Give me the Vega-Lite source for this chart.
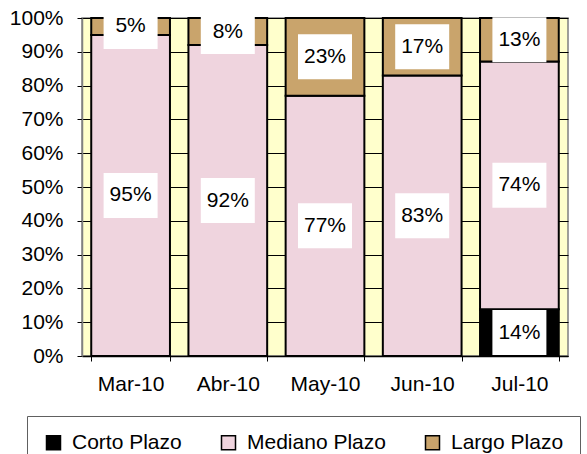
{
  "$schema": "https://vega.github.io/schema/vega-lite/v6.json",
  "autosize": {"type": "none"},
  "width": 486,
  "height": 338,
  "padding": {"left": 82, "top": 18, "right": 19, "bottom": 98},
  "background": "white",
  "title": {
    "text": "competitivo",
    "fontSize": 22,
    "fontWeight": "bold",
    "font": "Liberation Sans",
    "color": "black",
    "anchor": "middle",
    "dx": -33,
    "offset": 4
  },
  "config": {
    "font": "Liberation Sans",
    "view": {"fill": "#FFFFCC", "stroke": "#808080", "strokeWidth": 1.5},
    "axis": {
      "labelFont": "Liberation Sans",
      "labelFontSize": 21,
      "labelColor": "black",
      "tickColor": "black",
      "tickSize": 5,
      "title": null
    },
    "axisY": {
      "values": [0, 0.1, 0.2, 0.3, 0.4, 0.5, 0.6, 0.7, 0.8, 0.9, 1],
      "format": ".0%",
      "labelOverlap": false,
      "grid": true,
      "gridColor": "black",
      "gridWidth": 1,
      "gridOpacity": 1,
      "domainColor": "#808080",
      "domainWidth": 1.5,
      "labelPadding": 14
    }
  },
  "data": {
    "values": [
      {"mes": "Mar-10", "plazo": "Mediano Plazo", "orden": 2, "valor": 0.95},
      {"mes": "Mar-10", "plazo": "Largo Plazo", "orden": 3, "valor": 0.05},
      {"mes": "Abr-10", "plazo": "Mediano Plazo", "orden": 2, "valor": 0.92},
      {"mes": "Abr-10", "plazo": "Largo Plazo", "orden": 3, "valor": 0.08},
      {"mes": "May-10", "plazo": "Mediano Plazo", "orden": 2, "valor": 0.77},
      {"mes": "May-10", "plazo": "Largo Plazo", "orden": 3, "valor": 0.23},
      {"mes": "Jun-10", "plazo": "Mediano Plazo", "orden": 2, "valor": 0.83},
      {"mes": "Jun-10", "plazo": "Largo Plazo", "orden": 3, "valor": 0.17},
      {"mes": "Jul-10", "plazo": "Corto Plazo", "orden": 1, "valor": 0.14},
      {"mes": "Jul-10", "plazo": "Mediano Plazo", "orden": 2, "valor": 0.74},
      {"mes": "Jul-10", "plazo": "Largo Plazo", "orden": 3, "valor": 0.13}
    ]
  },
  "encoding": {
    "x": {
      "field": "mes",
      "type": "nominal",
      "sort": ["Mar-10", "Abr-10", "May-10", "Jun-10", "Jul-10"],
      "scale": {"paddingInner": 0.19, "paddingOuter": 0.095},
      "axis": {
        "labelAngle": 0,
        "tickBand": "extent",
        "domainColor": "black",
        "domainWidth": 1.5,
        "labelPadding": 12,
        "grid": false
      }
    },
    "order": {"field": "orden", "type": "quantitative"}
  },
  "layer": [
    {
      "mark": {"type": "bar", "stroke": "black", "strokeWidth": 2},
      "encoding": {
        "y": {
          "field": "valor",
          "type": "quantitative",
          "stack": "normalize",
          "scale": {"domain": [0, 1]}
        },
        "color": {
          "field": "plazo",
          "type": "nominal",
          "scale": {
            "domain": ["Corto Plazo", "Mediano Plazo", "Largo Plazo"],
            "range": ["#000000", "#EFD4DE", "#C9A46C"]
          },
          "legend": {
            "title": null,
            "orient": "none",
            "legendX": -55,
            "legendY": 398,
            "direction": "horizontal",
            "columns": 3,
            "columnPadding": 36,
            "padding": 16,
            "strokeColor": "#606060",
            "fillColor": "white",
            "symbolType": "square",
            "symbolSize": 196,
            "symbolStrokeColor": "black",
            "symbolStrokeWidth": 1.5,
            "symbolOpacity": 1,
            "labelFont": "Liberation Sans",
            "labelFontSize": 21,
            "labelColor": "black",
            "labelOffset": 8
          }
        }
      }
    },
    {
      "mark": {
        "type": "point",
        "shape": "M-1.2,-1L1.2,-1L1.2,1L-1.2,1Z",
        "size": 2025,
        "filled": true,
        "fill": "white",
        "opacity": 1,
        "strokeWidth": 0
      },
      "encoding": {
        "y": {"field": "valor", "type": "quantitative", "stack": "normalize", "bandPosition": 0.5}
      }
    },
    {
      "mark": {"type": "text", "fontSize": 21, "font": "Liberation Sans", "color": "black", "baseline": "middle"},
      "encoding": {
        "y": {"field": "valor", "type": "quantitative", "stack": "normalize", "bandPosition": 0.5},
        "text": {"field": "valor", "type": "quantitative", "format": ".0%"}
      }
    }
  ]
}
